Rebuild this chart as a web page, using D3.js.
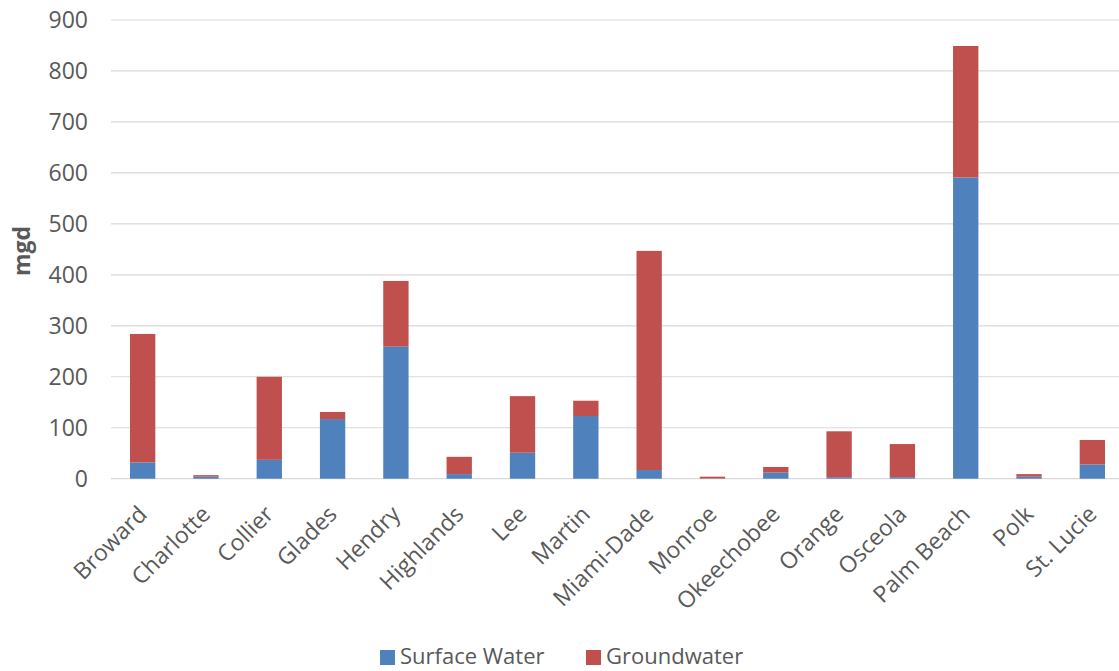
<!DOCTYPE html>
<html>
<head>
<meta charset="utf-8">
<script src="https://cdn.jsdelivr.net/npm/d3@7"></script>
<style>
  body { margin: 0; background: #fff; }
  text { font-family: "Open Sans", "Noto Sans", sans-serif; fill: #595959; }
</style>
</head>
<body>
<div id="chart"></div>
<script>
// Water use by county, mgd
const counties = ["Broward", "Charlotte", "Collier", "Glades", "Hendry", "Highlands", "Lee", "Martin",
    "Miami-Dade", "Monroe", "Okeechobee", "Orange", "Osceola", "Palm Beach", "Polk", "St. Lucie"];
const surfaceWater = [32, 4, 37, 117, 259, 9, 51, 123, 17, 0.5, 12, 3, 3, 591, 4, 28];
const groundwater = [252, 3, 163, 14, 129, 34, 111, 30, 430, 3.5, 11, 90, 65, 258, 5, 48];
const seriesNames = ["Surface Water", "Groundwater"];
const seriesColours = ["#4f81bd", "#c0504d"];
const yTicks = [0, 100, 200, 300, 400, 500, 600, 700, 800, 900];

const width = 1119, height = 671;
const margin = {top: 20, left: 111, right: -5, bottom: 193};

const svg = d3.select("#chart")
    .append("svg")
        .attr("width", width)
        .attr("height", height);

const xScale = d3.scaleBand()
    .domain(counties)
    .range([margin.left, width - margin.right])
    .paddingInner(0.6)
    .paddingOuter(0.3);

const yScale = d3.scaleLinear()
    .domain([0, 900])
    .range([height - margin.bottom + 0.7, margin.top]);

// gridlines
svg.append("g")
    .selectAll("line")
    .data(yTicks)
    .join("line")
        .attr("x1", margin.left)
        .attr("x2", width)
        .attr("y1", d => yScale(d))
        .attr("y2", d => yScale(d))
        .attr("stroke", "#d9d9d9")
        .attr("stroke-width", 1.2);

// y tick labels
svg.append("g")
    .selectAll("text")
    .data(yTicks)
    .join("text")
        .attr("x", 88)
        .attr("y", d => yScale(d))
        .attr("dy", "0.36em")
        .attr("text-anchor", "end")
        .style("font-size", "23px")
        .text(d => d);

// stack the two series
const rows = counties.map((c, i) => ({county: c, "Surface Water": surfaceWater[i], "Groundwater": groundwater[i]}));
const stacked = d3.stack().keys(seriesNames)(rows);

svg.append("g")
    .selectAll("g")
    .data(stacked)
    .join("g")
        .attr("fill", (d, i) => seriesColours[i])
    .selectAll("rect")
    .data(d => d)
    .join("rect")
        .attr("x", d => xScale(d.data.county))
        .attr("width", xScale.bandwidth())
        .attr("y", d => yScale(d[1]))
        .attr("height", d => yScale(d[0]) - yScale(d[1]));

// category labels, rotated
svg.append("g")
    .selectAll("text")
    .data(counties)
    .join("text")
        .attr("transform", d => `translate(${xScale(d) + xScale.bandwidth() / 2 - 6}, 504) rotate(-45)`)
        .attr("dy", "0.72em")
        .attr("text-anchor", "end")
        .style("font-size", "23px")
        .text(d => d);

// y axis title
svg.append("text")
    .attr("transform", `translate(22, 251) rotate(-90)`)
    .attr("dy", "0.35em")
    .attr("text-anchor", "middle")
    .style("font-size", "23px")
    .style("font-weight", "bold")
    .text("mgd");

// legend
const legendX = [380, 586];
const legend = svg.append("g")
    .selectAll("g")
    .data(seriesNames)
    .join("g")
        .attr("transform", (d, i) => `translate(${legendX[i]}, 650)`);
legend.append("rect")
    .attr("width", 15)
    .attr("height", 15)
    .attr("fill", (d, i) => seriesColours[i]);
legend.append("text")
    .attr("x", 20)
    .attr("y", 6.5)
    .attr("dy", "0.36em")
    .style("font-size", "22px")
    .text(d => d);
</script>
</body>
</html>
